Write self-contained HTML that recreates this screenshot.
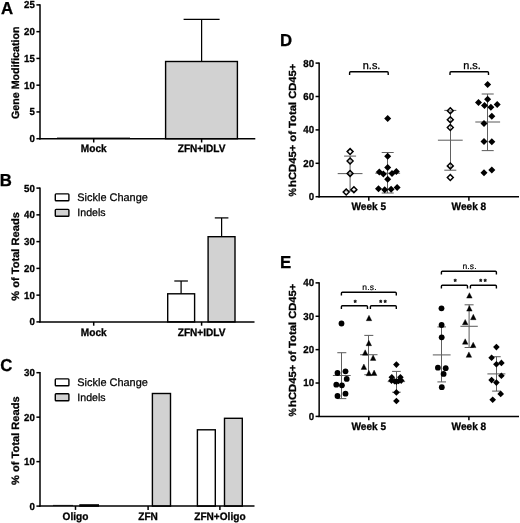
<!DOCTYPE html>
<html><head><meta charset="utf-8"><title>Figure</title>
<style>
html,body{margin:0;padding:0;background:#fff;}
body{width:520px;height:523px;overflow:hidden;font-family:"Liberation Sans",sans-serif;}
svg{display:block;opacity:0.999;will-change:transform;}
svg text{font-family:"Liberation Sans",sans-serif;fill:#000;text-rendering:geometricPrecision;}
</style></head>
<body>
<svg width="520" height="523" viewBox="0 0 520 523">
<rect width="520" height="523" fill="#fff"/>
<text transform="translate(0.90 13.85) scale(0.97 1)" font-size="17.3" font-weight="bold" stroke="#000" stroke-width="0.3" text-anchor="start" >A</text>
<path d="M40.00 4.20L40.00 139.40" stroke="#000" stroke-width="1.5" fill="none"/>
<path d="M36.40 138.70L40.00 138.70" stroke="#000" stroke-width="1.5" fill="none"/>
<text transform="translate(34.90 142.15) scale(0.95 1)" font-size="10.2" font-weight="bold" stroke="#000" stroke-width="0.3" text-anchor="end" >0</text>
<path d="M36.40 111.94L40.00 111.94" stroke="#000" stroke-width="1.5" fill="none"/>
<text transform="translate(34.90 115.39) scale(0.95 1)" font-size="10.2" font-weight="bold" stroke="#000" stroke-width="0.3" text-anchor="end" >5</text>
<path d="M36.40 85.18L40.00 85.18" stroke="#000" stroke-width="1.5" fill="none"/>
<text transform="translate(34.90 88.63) scale(0.95 1)" font-size="10.2" font-weight="bold" stroke="#000" stroke-width="0.3" text-anchor="end" >10</text>
<path d="M36.40 58.42L40.00 58.42" stroke="#000" stroke-width="1.5" fill="none"/>
<text transform="translate(34.90 61.87) scale(0.95 1)" font-size="10.2" font-weight="bold" stroke="#000" stroke-width="0.3" text-anchor="end" >15</text>
<path d="M36.40 31.66L40.00 31.66" stroke="#000" stroke-width="1.5" fill="none"/>
<text transform="translate(34.90 35.11) scale(0.95 1)" font-size="10.2" font-weight="bold" stroke="#000" stroke-width="0.3" text-anchor="end" >20</text>
<path d="M36.40 4.90L40.00 4.90" stroke="#000" stroke-width="1.5" fill="none"/>
<text transform="translate(34.90 8.35) scale(0.95 1)" font-size="10.2" font-weight="bold" stroke="#000" stroke-width="0.3" text-anchor="end" >25</text>
<text transform="translate(18.50 72.70) rotate(-90) scale(1.007 1)" font-size="10.6" font-weight="bold" stroke="#000" stroke-width="0.3" text-anchor="middle" >Gene Modification</text>
<rect x="165.60" y="61.50" width="71.80" height="77.20" fill="#d2d2d2" stroke="#000" stroke-width="1.4"/>
<path d="M201.60 19.40L201.60 61.50" stroke="#000" stroke-width="1.25" fill="none"/>
<path d="M183.60 19.40L219.60 19.40" stroke="#000" stroke-width="1.25" fill="none"/>
<path d="M39.25 138.70L255.30 138.70" stroke="#000" stroke-width="1.5" fill="none"/>
<path d="M93.70 138.70L93.70 142.50" stroke="#000" stroke-width="1.5" fill="none"/>
<text transform="translate(93.70 152.10) scale(0.935 1)" font-size="10.8" font-weight="bold" stroke="#000" stroke-width="0.3" text-anchor="middle" >Mock</text>
<path d="M201.60 138.70L201.60 142.50" stroke="#000" stroke-width="1.5" fill="none"/>
<text transform="translate(201.60 152.10) scale(0.935 1)" font-size="10.8" font-weight="bold" stroke="#000" stroke-width="0.3" text-anchor="middle" >ZFN+IDLV</text>
<path d="M57.00 138.00L130.00 138.00" stroke="#000" stroke-width="0.8"/>
<text transform="translate(-0.20 185.70) scale(0.97 1)" font-size="17.3" font-weight="bold" stroke="#000" stroke-width="0.3" text-anchor="start" >B</text>
<path d="M40.00 187.40L40.00 322.60" stroke="#000" stroke-width="1.5" fill="none"/>
<path d="M36.40 321.90L40.00 321.90" stroke="#000" stroke-width="1.5" fill="none"/>
<text transform="translate(34.90 325.35) scale(0.95 1)" font-size="10.2" font-weight="bold" stroke="#000" stroke-width="0.3" text-anchor="end" >0</text>
<path d="M36.40 295.14L40.00 295.14" stroke="#000" stroke-width="1.5" fill="none"/>
<text transform="translate(34.90 298.59) scale(0.95 1)" font-size="10.2" font-weight="bold" stroke="#000" stroke-width="0.3" text-anchor="end" >10</text>
<path d="M36.40 268.38L40.00 268.38" stroke="#000" stroke-width="1.5" fill="none"/>
<text transform="translate(34.90 271.83) scale(0.95 1)" font-size="10.2" font-weight="bold" stroke="#000" stroke-width="0.3" text-anchor="end" >20</text>
<path d="M36.40 241.62L40.00 241.62" stroke="#000" stroke-width="1.5" fill="none"/>
<text transform="translate(34.90 245.07) scale(0.95 1)" font-size="10.2" font-weight="bold" stroke="#000" stroke-width="0.3" text-anchor="end" >30</text>
<path d="M36.40 214.86L40.00 214.86" stroke="#000" stroke-width="1.5" fill="none"/>
<text transform="translate(34.90 218.31) scale(0.95 1)" font-size="10.2" font-weight="bold" stroke="#000" stroke-width="0.3" text-anchor="end" >40</text>
<path d="M36.40 188.10L40.00 188.10" stroke="#000" stroke-width="1.5" fill="none"/>
<text transform="translate(34.90 191.55) scale(0.95 1)" font-size="10.2" font-weight="bold" stroke="#000" stroke-width="0.3" text-anchor="end" >50</text>
<text transform="translate(18.50 256.45) rotate(-90) scale(1.047 1)" font-size="10.6" font-weight="bold" stroke="#000" stroke-width="0.3" text-anchor="middle" >% of Total Reads</text>
<rect x="55.30" y="193.90" width="13.6" height="6.9" rx="0.8" fill="#fff" stroke="#000" stroke-width="1.4"/>
<rect x="55.30" y="209.40" width="13.6" height="6.9" rx="0.8" fill="#d2d2d2" stroke="#000" stroke-width="1.4"/>
<text x="77.30" y="201.20" font-size="10.95"  text-anchor="start" stroke="#000" stroke-width="0.25">Sickle Change</text>
<text x="77.30" y="216.40" font-size="10.6"  text-anchor="start" stroke="#000" stroke-width="0.25">Indels</text>
<rect x="167.70" y="293.80" width="26.90" height="28.10" fill="#fff" stroke="#000" stroke-width="1.4"/>
<rect x="208.10" y="236.70" width="26.90" height="85.20" fill="#d2d2d2" stroke="#000" stroke-width="1.4"/>
<path d="M181.10 281.00L181.10 293.80" stroke="#000" stroke-width="1.25" fill="none"/>
<path d="M174.30 281.00L187.90 281.00" stroke="#000" stroke-width="1.25" fill="none"/>
<path d="M221.60 217.90L221.60 236.70" stroke="#000" stroke-width="1.25" fill="none"/>
<path d="M214.80 217.90L228.40 217.90" stroke="#000" stroke-width="1.25" fill="none"/>
<path d="M39.25 321.90L254.50 321.90" stroke="#000" stroke-width="1.5" fill="none"/>
<path d="M93.70 321.90L93.70 325.70" stroke="#000" stroke-width="1.5" fill="none"/>
<text transform="translate(93.70 335.60) scale(0.935 1)" font-size="10.8" font-weight="bold" stroke="#000" stroke-width="0.3" text-anchor="middle" >Mock</text>
<path d="M201.60 321.90L201.60 325.70" stroke="#000" stroke-width="1.5" fill="none"/>
<text transform="translate(201.60 335.60) scale(0.935 1)" font-size="10.8" font-weight="bold" stroke="#000" stroke-width="0.3" text-anchor="middle" >ZFN+IDLV</text>
<text transform="translate(0.35 370.50) scale(0.97 1)" font-size="17.3" font-weight="bold" stroke="#000" stroke-width="0.3" text-anchor="start" >C</text>
<path d="M40.00 371.99L40.00 506.80" stroke="#000" stroke-width="1.5" fill="none"/>
<path d="M36.40 506.10L40.00 506.10" stroke="#000" stroke-width="1.5" fill="none"/>
<text transform="translate(34.90 509.55) scale(0.95 1)" font-size="10.2" font-weight="bold" stroke="#000" stroke-width="0.3" text-anchor="end" >0</text>
<path d="M36.40 461.63L40.00 461.63" stroke="#000" stroke-width="1.5" fill="none"/>
<text transform="translate(34.90 465.08) scale(0.95 1)" font-size="10.2" font-weight="bold" stroke="#000" stroke-width="0.3" text-anchor="end" >10</text>
<path d="M36.40 417.16L40.00 417.16" stroke="#000" stroke-width="1.5" fill="none"/>
<text transform="translate(34.90 420.61) scale(0.95 1)" font-size="10.2" font-weight="bold" stroke="#000" stroke-width="0.3" text-anchor="end" >20</text>
<path d="M36.40 372.69L40.00 372.69" stroke="#000" stroke-width="1.5" fill="none"/>
<text transform="translate(34.90 376.14) scale(0.95 1)" font-size="10.2" font-weight="bold" stroke="#000" stroke-width="0.3" text-anchor="end" >30</text>
<text transform="translate(18.50 440.65) rotate(-90) scale(1.047 1)" font-size="10.6" font-weight="bold" stroke="#000" stroke-width="0.3" text-anchor="middle" >% of Total Reads</text>
<rect x="55.30" y="378.90" width="13.6" height="6.9" rx="0.8" fill="#fff" stroke="#000" stroke-width="1.4"/>
<rect x="55.30" y="393.80" width="13.6" height="6.9" rx="0.8" fill="#d2d2d2" stroke="#000" stroke-width="1.4"/>
<text x="77.30" y="385.80" font-size="10.95"  text-anchor="start" stroke="#000" stroke-width="0.25">Sickle Change</text>
<text x="77.30" y="400.60" font-size="10.6"  text-anchor="start" stroke="#000" stroke-width="0.25">Indels</text>
<rect x="80.00" y="504.90" width="18.30" height="1.20" fill="#d2d2d2" stroke="#000" stroke-width="1.4"/>
<path d="M53.00 505.40L73.00 505.40" stroke="#000" stroke-width="0.8"/>
<rect x="152.40" y="393.50" width="18.10" height="112.60" fill="#d2d2d2" stroke="#000" stroke-width="1.4"/>
<rect x="197.40" y="429.80" width="17.90" height="76.30" fill="#fff" stroke="#000" stroke-width="1.4"/>
<rect x="224.50" y="418.30" width="17.80" height="87.80" fill="#d2d2d2" stroke="#000" stroke-width="1.4"/>
<path d="M39.25 506.10L254.50 506.10" stroke="#000" stroke-width="1.5" fill="none"/>
<path d="M75.50 506.10L75.50 509.90" stroke="#000" stroke-width="1.5" fill="none"/>
<text transform="translate(75.50 519.60) scale(0.935 1)" font-size="10.8" font-weight="bold" stroke="#000" stroke-width="0.3" text-anchor="middle" >Oligo</text>
<path d="M148.10 506.10L148.10 509.90" stroke="#000" stroke-width="1.5" fill="none"/>
<text transform="translate(148.10 519.60) scale(0.935 1)" font-size="10.8" font-weight="bold" stroke="#000" stroke-width="0.3" text-anchor="middle" >ZFN</text>
<path d="M219.90 506.10L219.90 509.90" stroke="#000" stroke-width="1.5" fill="none"/>
<text transform="translate(219.90 519.60) scale(0.935 1)" font-size="10.8" font-weight="bold" stroke="#000" stroke-width="0.3" text-anchor="middle" >ZFN+Oligo</text>
<text transform="translate(279.90 46.30) scale(0.97 1)" font-size="17.3" font-weight="bold" stroke="#000" stroke-width="0.3" text-anchor="start" >D</text>
<path d="M319.15 62.40L319.15 197.40" stroke="#000" stroke-width="1.5" fill="none"/>
<path d="M315.55 196.70L319.15 196.70" stroke="#000" stroke-width="1.5" fill="none"/>
<text transform="translate(314.05 200.15) scale(0.95 1)" font-size="10.2" font-weight="bold" stroke="#000" stroke-width="0.3" text-anchor="end" >0</text>
<path d="M315.55 163.30L319.15 163.30" stroke="#000" stroke-width="1.5" fill="none"/>
<text transform="translate(314.05 166.75) scale(0.95 1)" font-size="10.2" font-weight="bold" stroke="#000" stroke-width="0.3" text-anchor="end" >20</text>
<path d="M315.55 129.90L319.15 129.90" stroke="#000" stroke-width="1.5" fill="none"/>
<text transform="translate(314.05 133.35) scale(0.95 1)" font-size="10.2" font-weight="bold" stroke="#000" stroke-width="0.3" text-anchor="end" >40</text>
<path d="M315.55 96.50L319.15 96.50" stroke="#000" stroke-width="1.5" fill="none"/>
<text transform="translate(314.05 99.95) scale(0.95 1)" font-size="10.2" font-weight="bold" stroke="#000" stroke-width="0.3" text-anchor="end" >60</text>
<path d="M315.55 63.10L319.15 63.10" stroke="#000" stroke-width="1.5" fill="none"/>
<text transform="translate(314.05 66.55) scale(0.95 1)" font-size="10.2" font-weight="bold" stroke="#000" stroke-width="0.3" text-anchor="end" >80</text>
<text transform="translate(295.50 186.90) rotate(-90) scale(1.09 1)" font-size="10.3" font-weight="bold" stroke="#000" stroke-width="0.3" text-anchor="start" >hCD45+ of Total CD45+</text>
<text transform="translate(295.50 188.10) rotate(-90) scale(0.91 1)" font-size="10.3" font-weight="bold" stroke="#000" stroke-width="0.3" text-anchor="end" >%</text>
<path d="M318.35 196.85L519.00 196.85" stroke="#000" stroke-width="1.5" fill="none"/>
<path d="M368.80 196.85L368.80 200.65" stroke="#000" stroke-width="1.5" fill="none"/>
<text transform="translate(368.80 210.00) scale(0.935 1)" font-size="10.8" font-weight="bold" stroke="#000" stroke-width="0.3" text-anchor="middle" >Week 5</text>
<path d="M468.90 196.85L468.90 200.65" stroke="#000" stroke-width="1.5" fill="none"/>
<text transform="translate(468.90 210.00) scale(0.935 1)" font-size="10.8" font-weight="bold" stroke="#000" stroke-width="0.3" text-anchor="middle" >Week 8</text>
<path d="M350.10 156.10L350.10 191.00" stroke="#606060" stroke-width="1.05" fill="none"/>
<path d="M337.70 173.60L362.50 173.60" stroke="#606060" stroke-width="1.05" fill="none"/>
<path d="M344.10 156.10L356.10 156.10" stroke="#606060" stroke-width="1.05" fill="none"/>
<path d="M344.10 191.00L356.10 191.00" stroke="#606060" stroke-width="1.05" fill="none"/>
<path d="M350.10 148.65L353.05 151.60L350.10 154.55L347.15 151.60Z" fill="#fff" fill-opacity="0.4" stroke="#000" stroke-width="1.5"/>
<path d="M350.10 158.05L353.05 161.00L350.10 163.95L347.15 161.00Z" fill="#fff" fill-opacity="0.4" stroke="#000" stroke-width="1.5"/>
<path d="M350.10 170.45L353.05 173.40L350.10 176.35L347.15 173.40Z" fill="#fff" fill-opacity="0.4" stroke="#000" stroke-width="1.5"/>
<path d="M346.20 189.05L349.15 192.00L346.20 194.95L343.25 192.00Z" fill="#fff" fill-opacity="0.4" stroke="#000" stroke-width="1.5"/>
<path d="M353.90 186.75L356.85 189.70L353.90 192.65L350.95 189.70Z" fill="#fff" fill-opacity="0.4" stroke="#000" stroke-width="1.5"/>
<path d="M387.50 152.50L387.50 193.00" stroke="#606060" stroke-width="1.05" fill="none"/>
<path d="M375.30 173.20L400.10 173.20" stroke="#606060" stroke-width="1.05" fill="none"/>
<path d="M381.70 152.50L393.70 152.50" stroke="#606060" stroke-width="1.05" fill="none"/>
<path d="M381.70 193.00L393.70 193.00" stroke="#606060" stroke-width="1.05" fill="none"/>
<path d="M387.70 114.90L391.20 118.40L387.70 121.90L384.20 118.40Z" fill="#000"/>
<path d="M387.70 152.80L391.20 156.30L387.70 159.80L384.20 156.30Z" fill="#000"/>
<path d="M387.70 164.10L391.20 167.60L387.70 171.10L384.20 167.60Z" fill="#000"/>
<path d="M379.30 168.50L382.80 172.00L379.30 175.50L375.80 172.00Z" fill="#000"/>
<path d="M396.30 168.10L399.80 171.60L396.30 175.10L392.80 171.60Z" fill="#000"/>
<path d="M383.40 170.50L386.90 174.00L383.40 177.50L379.90 174.00Z" fill="#000"/>
<path d="M392.00 170.10L395.50 173.60L392.00 177.10L388.50 173.60Z" fill="#000"/>
<path d="M387.70 175.70L391.20 179.20L387.70 182.70L384.20 179.20Z" fill="#000"/>
<path d="M378.50 185.30L382.00 188.80L378.50 192.30L375.00 188.80Z" fill="#000"/>
<path d="M397.10 183.90L400.60 187.40L397.10 190.90L393.60 187.40Z" fill="#000"/>
<path d="M384.70 186.30L388.20 189.80L384.70 193.30L381.20 189.80Z" fill="#000"/>
<path d="M391.10 185.80L394.60 189.30L391.10 192.80L387.60 189.30Z" fill="#000"/>
<path d="M450.50 110.40L450.50 170.20" stroke="#606060" stroke-width="1.05" fill="none"/>
<path d="M437.90 140.20L462.70 140.20" stroke="#606060" stroke-width="1.05" fill="none"/>
<path d="M444.30 110.40L456.30 110.40" stroke="#606060" stroke-width="1.05" fill="none"/>
<path d="M444.30 170.20L456.30 170.20" stroke="#606060" stroke-width="1.05" fill="none"/>
<path d="M450.30 107.75L453.25 110.70L450.30 113.65L447.35 110.70Z" fill="#fff" fill-opacity="0.4" stroke="#000" stroke-width="1.5"/>
<path d="M450.30 116.75L453.25 119.70L450.30 122.65L447.35 119.70Z" fill="#fff" fill-opacity="0.4" stroke="#000" stroke-width="1.5"/>
<path d="M450.30 124.55L453.25 127.50L450.30 130.45L447.35 127.50Z" fill="#fff" fill-opacity="0.4" stroke="#000" stroke-width="1.5"/>
<path d="M450.30 162.95L453.25 165.90L450.30 168.85L447.35 165.90Z" fill="#fff" fill-opacity="0.4" stroke="#000" stroke-width="1.5"/>
<path d="M450.30 174.55L453.25 177.50L450.30 180.45L447.35 177.50Z" fill="#fff" fill-opacity="0.4" stroke="#000" stroke-width="1.5"/>
<path d="M487.50 94.00L487.50 150.60" stroke="#606060" stroke-width="1.05" fill="none"/>
<path d="M475.30 122.00L500.10 122.00" stroke="#606060" stroke-width="1.05" fill="none"/>
<path d="M481.70 94.00L493.70 94.00" stroke="#606060" stroke-width="1.05" fill="none"/>
<path d="M481.70 150.60L493.70 150.60" stroke="#606060" stroke-width="1.05" fill="none"/>
<path d="M487.60 81.00L491.10 84.50L487.60 88.00L484.10 84.50Z" fill="#000"/>
<path d="M487.60 95.70L491.10 99.20L487.60 102.70L484.10 99.20Z" fill="#000"/>
<path d="M478.50 99.10L482.00 102.60L478.50 106.10L475.00 102.60Z" fill="#000"/>
<path d="M497.20 100.90L500.70 104.40L497.20 107.90L493.70 104.40Z" fill="#000"/>
<path d="M484.50 102.10L488.00 105.60L484.50 109.10L481.00 105.60Z" fill="#000"/>
<path d="M490.90 103.80L494.40 107.30L490.90 110.80L487.40 107.30Z" fill="#000"/>
<path d="M491.80 112.80L495.30 116.30L491.80 119.80L488.30 116.30Z" fill="#000"/>
<path d="M484.00 119.90L487.50 123.40L484.00 126.90L480.50 123.40Z" fill="#000"/>
<path d="M484.00 137.90L487.50 141.40L484.00 144.90L480.50 141.40Z" fill="#000"/>
<path d="M491.80 138.20L495.30 141.70L491.80 145.20L488.30 141.70Z" fill="#000"/>
<path d="M484.00 169.30L487.50 172.80L484.00 176.30L480.50 172.80Z" fill="#000"/>
<path d="M491.80 166.40L495.30 169.90L491.80 173.40L488.30 169.90Z" fill="#000"/>
<path d="M349.60 75.10L349.60 72.80Q349.60 71.80 350.60 71.80L387.20 71.80Q388.20 71.80 388.20 72.80L388.20 75.10" stroke="#000" stroke-width="1.4" fill="none"/>
<path d="M450.00 75.00L450.00 72.70Q450.00 71.70 451.00 71.70L487.50 71.70Q488.50 71.70 488.50 72.70L488.50 75.00" stroke="#000" stroke-width="1.4" fill="none"/>
<text x="371.60" y="68.80" font-size="10.9"  text-anchor="middle" stroke="#000" stroke-width="0.3">n.s.</text>
<text x="472.00" y="68.60" font-size="10.9"  text-anchor="middle" stroke="#000" stroke-width="0.3">n.s.</text>
<text transform="translate(280.00 267.50) scale(0.97 1)" font-size="17.3" font-weight="bold" stroke="#000" stroke-width="0.3" text-anchor="start" >E</text>
<path d="M319.15 282.18L319.15 417.10" stroke="#000" stroke-width="1.5" fill="none"/>
<path d="M315.55 416.40L319.15 416.40" stroke="#000" stroke-width="1.5" fill="none"/>
<text transform="translate(314.05 419.85) scale(0.95 1)" font-size="10.2" font-weight="bold" stroke="#000" stroke-width="0.3" text-anchor="end" >0</text>
<path d="M315.55 383.02L319.15 383.02" stroke="#000" stroke-width="1.5" fill="none"/>
<text transform="translate(314.05 386.47) scale(0.95 1)" font-size="10.2" font-weight="bold" stroke="#000" stroke-width="0.3" text-anchor="end" >10</text>
<path d="M315.55 349.64L319.15 349.64" stroke="#000" stroke-width="1.5" fill="none"/>
<text transform="translate(314.05 353.09) scale(0.95 1)" font-size="10.2" font-weight="bold" stroke="#000" stroke-width="0.3" text-anchor="end" >20</text>
<path d="M315.55 316.26L319.15 316.26" stroke="#000" stroke-width="1.5" fill="none"/>
<text transform="translate(314.05 319.71) scale(0.95 1)" font-size="10.2" font-weight="bold" stroke="#000" stroke-width="0.3" text-anchor="end" >30</text>
<path d="M315.55 282.88L319.15 282.88" stroke="#000" stroke-width="1.5" fill="none"/>
<text transform="translate(314.05 286.33) scale(0.95 1)" font-size="10.2" font-weight="bold" stroke="#000" stroke-width="0.3" text-anchor="end" >40</text>
<text transform="translate(295.50 406.90) rotate(-90) scale(1.09 1)" font-size="10.3" font-weight="bold" stroke="#000" stroke-width="0.3" text-anchor="start" >hCD45+ of Total CD45+</text>
<text transform="translate(295.50 408.10) rotate(-90) scale(0.91 1)" font-size="10.3" font-weight="bold" stroke="#000" stroke-width="0.3" text-anchor="end" >%</text>
<path d="M318.35 416.40L519.00 416.40" stroke="#000" stroke-width="1.5" fill="none"/>
<path d="M368.80 416.40L368.80 420.20" stroke="#000" stroke-width="1.5" fill="none"/>
<text transform="translate(368.80 429.90) scale(0.935 1)" font-size="10.8" font-weight="bold" stroke="#000" stroke-width="0.3" text-anchor="middle" >Week 5</text>
<path d="M468.90 416.40L468.90 420.20" stroke="#000" stroke-width="1.5" fill="none"/>
<text transform="translate(468.90 429.90) scale(0.935 1)" font-size="10.8" font-weight="bold" stroke="#000" stroke-width="0.3" text-anchor="middle" >Week 8</text>
<path d="M341.50 352.70L341.50 398.60" stroke="#606060" stroke-width="1.05" fill="none"/>
<path d="M332.90 375.50L350.70 375.50" stroke="#606060" stroke-width="1.05" fill="none"/>
<path d="M337.30 352.70L346.30 352.70" stroke="#606060" stroke-width="1.05" fill="none"/>
<path d="M337.30 398.60L346.30 398.60" stroke="#606060" stroke-width="1.05" fill="none"/>
<circle cx="341.50" cy="323.50" r="2.9" fill="#000"/>
<circle cx="337.50" cy="373.00" r="2.9" fill="#000"/>
<circle cx="345.50" cy="371.30" r="2.9" fill="#000"/>
<circle cx="346.70" cy="378.90" r="2.9" fill="#000"/>
<circle cx="336.30" cy="384.70" r="2.9" fill="#000"/>
<circle cx="341.90" cy="385.30" r="2.9" fill="#000"/>
<circle cx="337.50" cy="396.00" r="2.9" fill="#000"/>
<circle cx="345.50" cy="393.70" r="2.9" fill="#000"/>
<path d="M368.50 335.40L368.50 374.70" stroke="#606060" stroke-width="1.05" fill="none"/>
<path d="M360.10 354.70L377.50 354.70" stroke="#606060" stroke-width="1.05" fill="none"/>
<path d="M364.30 335.40L373.30 335.40" stroke="#606060" stroke-width="1.05" fill="none"/>
<path d="M364.30 374.70L373.30 374.70" stroke="#606060" stroke-width="1.05" fill="none"/>
<path d="M369.00 315.30L371.75 320.70L366.25 320.70Z" fill="#000" stroke="#000" stroke-width="0.4" stroke-linejoin="round"/>
<path d="M368.80 340.30L371.55 345.70L366.05 345.70Z" fill="#000" stroke="#000" stroke-width="0.4" stroke-linejoin="round"/>
<path d="M365.20 349.80L367.95 355.20L362.45 355.20Z" fill="#000" stroke="#000" stroke-width="0.4" stroke-linejoin="round"/>
<path d="M373.10 355.00L375.85 360.40L370.35 360.40Z" fill="#000" stroke="#000" stroke-width="0.4" stroke-linejoin="round"/>
<path d="M363.90 364.00L366.65 369.40L361.15 369.40Z" fill="#000" stroke="#000" stroke-width="0.4" stroke-linejoin="round"/>
<path d="M368.90 370.30L371.65 375.70L366.15 375.70Z" fill="#000" stroke="#000" stroke-width="0.4" stroke-linejoin="round"/>
<path d="M374.10 370.10L376.85 375.50L371.35 375.50Z" fill="#000" stroke="#000" stroke-width="0.4" stroke-linejoin="round"/>
<path d="M396.50 371.40L396.50 392.20" stroke="#606060" stroke-width="1.05" fill="none"/>
<path d="M387.70 381.60L405.10 381.60" stroke="#606060" stroke-width="1.05" fill="none"/>
<path d="M392.10 371.40L400.70 371.40" stroke="#606060" stroke-width="1.05" fill="none"/>
<path d="M392.10 392.20L400.70 392.20" stroke="#606060" stroke-width="1.05" fill="none"/>
<path d="M396.40 361.30L399.70 364.60L396.40 367.90L393.10 364.60Z" fill="#000"/>
<path d="M391.80 373.90L395.10 377.20L391.80 380.50L388.50 377.20Z" fill="#000"/>
<path d="M400.40 373.90L403.70 377.20L400.40 380.50L397.10 377.20Z" fill="#000"/>
<path d="M391.50 377.30L394.80 380.60L391.50 383.90L388.20 380.60Z" fill="#000"/>
<path d="M394.60 377.90L397.90 381.20L394.60 384.50L391.30 381.20Z" fill="#000"/>
<path d="M398.60 377.70L401.90 381.00L398.60 384.30L395.30 381.00Z" fill="#000"/>
<path d="M401.20 377.30L404.50 380.60L401.20 383.90L397.90 380.60Z" fill="#000"/>
<path d="M396.40 378.30L399.70 381.60L396.40 384.90L393.10 381.60Z" fill="#000"/>
<path d="M396.40 389.10L399.70 392.40L396.40 395.70L393.10 392.40Z" fill="#000"/>
<path d="M396.40 397.70L399.70 401.00L396.40 404.30L393.10 401.00Z" fill="#000"/>
<path d="M441.50 326.90L441.50 381.90" stroke="#606060" stroke-width="1.05" fill="none"/>
<path d="M432.80 354.90L450.60 354.90" stroke="#606060" stroke-width="1.05" fill="none"/>
<path d="M437.40 326.90L446.00 326.90" stroke="#606060" stroke-width="1.05" fill="none"/>
<path d="M437.40 381.90L446.00 381.90" stroke="#606060" stroke-width="1.05" fill="none"/>
<circle cx="441.50" cy="308.30" r="2.9" fill="#000"/>
<circle cx="441.60" cy="325.00" r="2.9" fill="#000"/>
<circle cx="441.70" cy="337.30" r="2.9" fill="#000"/>
<circle cx="437.90" cy="367.70" r="2.9" fill="#000"/>
<circle cx="445.70" cy="368.20" r="2.9" fill="#000"/>
<circle cx="443.60" cy="373.90" r="2.9" fill="#000"/>
<circle cx="441.80" cy="387.20" r="2.9" fill="#000"/>
<path d="M469.10 304.80L469.10 347.50" stroke="#606060" stroke-width="1.05" fill="none"/>
<path d="M460.40 326.30L477.80 326.30" stroke="#606060" stroke-width="1.05" fill="none"/>
<path d="M464.60 304.80L473.60 304.80" stroke="#606060" stroke-width="1.05" fill="none"/>
<path d="M464.60 347.50L473.60 347.50" stroke="#606060" stroke-width="1.05" fill="none"/>
<path d="M469.40 292.70L472.15 298.10L466.65 298.10Z" fill="#000" stroke="#000" stroke-width="0.4" stroke-linejoin="round"/>
<path d="M469.40 305.70L472.15 311.10L466.65 311.10Z" fill="#000" stroke="#000" stroke-width="0.4" stroke-linejoin="round"/>
<path d="M473.30 314.30L476.05 319.70L470.55 319.70Z" fill="#000" stroke="#000" stroke-width="0.4" stroke-linejoin="round"/>
<path d="M465.20 319.40L467.95 324.80L462.45 324.80Z" fill="#000" stroke="#000" stroke-width="0.4" stroke-linejoin="round"/>
<path d="M465.20 338.80L467.95 344.20L462.45 344.20Z" fill="#000" stroke="#000" stroke-width="0.4" stroke-linejoin="round"/>
<path d="M473.20 342.20L475.95 347.60L470.45 347.60Z" fill="#000" stroke="#000" stroke-width="0.4" stroke-linejoin="round"/>
<path d="M468.90 351.90L471.65 357.30L466.15 357.30Z" fill="#000" stroke="#000" stroke-width="0.4" stroke-linejoin="round"/>
<path d="M496.50 356.70L496.50 391.10" stroke="#606060" stroke-width="1.05" fill="none"/>
<path d="M487.40 373.90L505.40 373.90" stroke="#606060" stroke-width="1.05" fill="none"/>
<path d="M492.10 356.70L500.70 356.70" stroke="#606060" stroke-width="1.05" fill="none"/>
<path d="M492.10 391.10L500.70 391.10" stroke="#606060" stroke-width="1.05" fill="none"/>
<path d="M496.40 343.80L499.70 347.10L496.40 350.40L493.10 347.10Z" fill="#000"/>
<path d="M491.60 354.50L494.90 357.80L491.60 361.10L488.30 357.80Z" fill="#000"/>
<path d="M501.40 359.60L504.70 362.90L501.40 366.20L498.10 362.90Z" fill="#000"/>
<path d="M496.40 361.00L499.70 364.30L496.40 367.60L493.10 364.30Z" fill="#000"/>
<path d="M501.40 372.40L504.70 375.70L501.40 379.00L498.10 375.70Z" fill="#000"/>
<path d="M491.60 376.80L494.90 380.10L491.60 383.40L488.30 380.10Z" fill="#000"/>
<path d="M496.40 379.30L499.70 382.60L496.40 385.90L493.10 382.60Z" fill="#000"/>
<path d="M500.70 390.60L504.00 393.90L500.70 397.20L497.40 393.90Z" fill="#000"/>
<path d="M492.70 396.50L496.00 399.80L492.70 403.10L489.40 399.80Z" fill="#000"/>
<path d="M341.40 295.50L341.40 293.20Q341.40 292.20 342.40 292.20L395.30 292.20Q396.30 292.20 396.30 293.20L396.30 295.50" stroke="#000" stroke-width="1.4" fill="none"/>
<path d="M341.40 309.10L341.40 306.80Q341.40 305.80 342.40 305.80L366.50 305.80Q367.50 305.80 367.50 306.80L367.50 309.10" stroke="#000" stroke-width="1.4" fill="none"/>
<path d="M370.40 309.10L370.40 306.80Q370.40 305.80 371.40 305.80L395.30 305.80Q396.30 305.80 396.30 306.80L396.30 309.10" stroke="#000" stroke-width="1.4" fill="none"/>
<path d="M441.40 274.50L441.40 272.20Q441.40 271.20 442.40 271.20L495.40 271.20Q496.40 271.20 496.40 272.20L496.40 274.50" stroke="#000" stroke-width="1.4" fill="none"/>
<path d="M441.40 288.50L441.40 286.20Q441.40 285.20 442.40 285.20L466.50 285.20Q467.50 285.20 467.50 286.20L467.50 288.50" stroke="#000" stroke-width="1.4" fill="none"/>
<path d="M470.40 288.50L470.40 286.20Q470.40 285.20 471.40 285.20L495.40 285.20Q496.40 285.20 496.40 286.20L496.40 288.50" stroke="#000" stroke-width="1.4" fill="none"/>
<text x="369.50" y="289.80" font-size="8.5"  text-anchor="middle" stroke="#000" stroke-width="0.2" letter-spacing="0.15">n.s.</text>
<text x="469.60" y="268.90" font-size="8.5"  text-anchor="middle" stroke="#000" stroke-width="0.2" letter-spacing="0.15">n.s.</text>
<text x="355.20" y="304.50" font-size="7.4" font-weight="bold" stroke="#000" stroke-width="0.3" text-anchor="middle" >*</text>
<text x="380.80" y="304.50" font-size="7.4" font-weight="bold" stroke="#000" stroke-width="0.3" text-anchor="middle" >*</text>
<text x="385.10" y="304.50" font-size="7.4" font-weight="bold" stroke="#000" stroke-width="0.3" text-anchor="middle" >*</text>
<text x="455.20" y="284.10" font-size="7.4" font-weight="bold" stroke="#000" stroke-width="0.3" text-anchor="middle" >*</text>
<text x="480.80" y="284.10" font-size="7.4" font-weight="bold" stroke="#000" stroke-width="0.3" text-anchor="middle" >*</text>
<text x="485.10" y="284.10" font-size="7.4" font-weight="bold" stroke="#000" stroke-width="0.3" text-anchor="middle" >*</text>
</svg>
</body></html>
